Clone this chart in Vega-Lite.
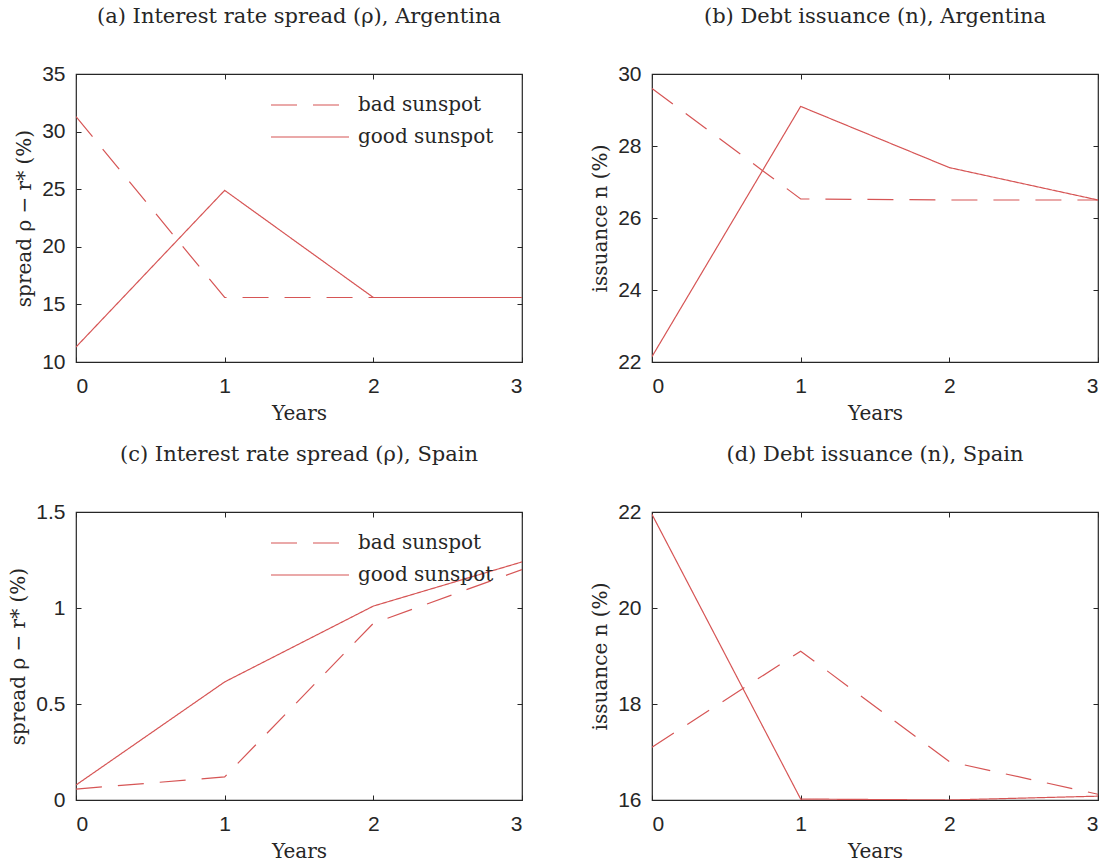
{
  "$schema": "https://vega.github.io/schema/vega-lite/v6.json",
  "background": "white",
  "padding": {"left": 8, "top": 5, "right": 5, "bottom": 5},
  "config": {
    "view": {"stroke": "#262626", "strokeWidth": 1.2},
    "axis": {
      "grid": false, "domain": false,
      "tickColor": "#262626", "tickSize": -5, "tickWidth": 1,
      "labelFont": "Liberation Sans", "labelFontSize": 21, "labelColor": "#262626",
      "titleFont": "DejaVu Serif", "titleFontSize": 20, "titleFontWeight": "normal", "titleColor": "#262626"
    },
    "axisX": {"labelPadding": 18, "titlePadding": 7},
    "axisY": {"labelPadding": 16, "titlePadding": 7},
    "title": {"font": "DejaVu Serif", "fontSize": 21, "fontWeight": "normal", "color": "#262626", "offset": 36},
    "legend": {
      "symbolType": "stroke", "symbolSize": 6084, "symbolStrokeWidth": 1.2, "clipHeight": 30,
      "labelFont": "DejaVu Serif", "labelFontSize": 20, "labelColor": "#262626", "labelOffset": 8,
      "padding": 0, "title": null
    },
    "line": {"strokeWidth": 1.2, "color": "#d65555"}
  },
  "datasets": {
    "pts": [
      {"panel": "a", "series": "bad sunspot", "year": 0, "value": 31.3},
      {"panel": "a", "series": "bad sunspot", "year": 1, "value": 15.6},
      {"panel": "a", "series": "bad sunspot", "year": 2, "value": 15.6},
      {"panel": "a", "series": "bad sunspot", "year": 3, "value": 15.6},
      {"panel": "a", "series": "good sunspot", "year": 0, "value": 11.3},
      {"panel": "a", "series": "good sunspot", "year": 1, "value": 24.9},
      {"panel": "a", "series": "good sunspot", "year": 2, "value": 15.6},
      {"panel": "a", "series": "good sunspot", "year": 3, "value": 15.6},
      {"panel": "b", "series": "bad sunspot", "year": 0, "value": 29.6},
      {"panel": "b", "series": "bad sunspot", "year": 1, "value": 26.53},
      {"panel": "b", "series": "bad sunspot", "year": 2, "value": 26.5},
      {"panel": "b", "series": "bad sunspot", "year": 3, "value": 26.5},
      {"panel": "b", "series": "good sunspot", "year": 0, "value": 22.15},
      {"panel": "b", "series": "good sunspot", "year": 1, "value": 29.1},
      {"panel": "b", "series": "good sunspot", "year": 2, "value": 27.4},
      {"panel": "b", "series": "good sunspot", "year": 3, "value": 26.5},
      {"panel": "c", "series": "bad sunspot", "year": 0, "value": 0.057},
      {"panel": "c", "series": "bad sunspot", "year": 1, "value": 0.12},
      {"panel": "c", "series": "bad sunspot", "year": 2, "value": 0.92},
      {"panel": "c", "series": "bad sunspot", "year": 3, "value": 1.2},
      {"panel": "c", "series": "good sunspot", "year": 0, "value": 0.078},
      {"panel": "c", "series": "good sunspot", "year": 1, "value": 0.615},
      {"panel": "c", "series": "good sunspot", "year": 2, "value": 1.01},
      {"panel": "c", "series": "good sunspot", "year": 3, "value": 1.24},
      {"panel": "d", "series": "bad sunspot", "year": 0, "value": 17.1},
      {"panel": "d", "series": "bad sunspot", "year": 1, "value": 19.1},
      {"panel": "d", "series": "bad sunspot", "year": 2, "value": 16.8},
      {"panel": "d", "series": "bad sunspot", "year": 3, "value": 16.12},
      {"panel": "d", "series": "good sunspot", "year": 0, "value": 21.95},
      {"panel": "d", "series": "good sunspot", "year": 1, "value": 16.02},
      {"panel": "d", "series": "good sunspot", "year": 2, "value": 16.0},
      {"panel": "d", "series": "good sunspot", "year": 3, "value": 16.08}
    ]
  },
  "columns": 2,
  "bounds": "flush",
  "spacing": {"row": 150, "column": 130},
  "resolve": {"scale": {"y": "independent", "strokeDash": "independent"}, "legend": {"strokeDash": "independent"}},
  "concat": [
    {
      "width": 446, "height": 288,
      "title": "(a) Interest rate spread (ρ), Argentina",
      "data": {"name": "pts"},
      "transform": [{"filter": "datum.panel === 'a'"}],
      "resolve": {"axis": {"x": "independent", "y": "independent"}},
      "layer": [
        {
          "mark": {"type": "line", "clip": true},
          "encoding": {
            "x": {"field": "year", "type": "quantitative", "scale": {"domain": [0, 3], "nice": false}, "axis": {"values": [0, 1, 2, 3], "title": "Years"}},
            "y": {"field": "value", "type": "quantitative", "scale": {"domain": [10, 35], "nice": false, "zero": false}, "axis": {"values": [10, 15, 20, 25, 30, 35], "title": "spread ρ − r* (%)"}},
            "strokeDash": {"field": "series", "type": "nominal", "scale": {"domain": ["bad sunspot", "good sunspot"], "range": [[26, 16], [1, 0]]},
              "legend": {"orient": "none", "legendX": 194, "legendY": 16}}
          }
        },
        {
          "mark": {"type": "line", "opacity": 0},
          "encoding": {
            "x": {"field": "year", "type": "quantitative", "axis": {"orient": "top", "values": [0, 1, 2, 3], "labels": false, "title": null}},
            "y": {"field": "value", "type": "quantitative", "axis": {"orient": "right", "values": [10, 15, 20, 25, 30, 35], "labels": false, "title": null}},
            "detail": {"field": "series"}
          }
        }
      ]
    },
    {
      "width": 446, "height": 288,
      "title": "(b) Debt issuance (n), Argentina",
      "data": {"name": "pts"},
      "transform": [{"filter": "datum.panel === 'b'"}],
      "resolve": {"axis": {"x": "independent", "y": "independent"}},
      "layer": [
        {
          "mark": {"type": "line", "clip": true},
          "encoding": {
            "x": {"field": "year", "type": "quantitative", "scale": {"domain": [0, 3], "nice": false}, "axis": {"values": [0, 1, 2, 3], "title": "Years"}},
            "y": {"field": "value", "type": "quantitative", "scale": {"domain": [22, 30], "nice": false, "zero": false}, "axis": {"values": [22, 24, 26, 28, 30], "title": "issuance n (%)"}},
            "strokeDash": {"field": "series", "type": "nominal", "scale": {"domain": ["bad sunspot", "good sunspot"], "range": [[26, 16], [1, 0]]}, "legend": null}
          }
        },
        {
          "mark": {"type": "line", "opacity": 0},
          "encoding": {
            "x": {"field": "year", "type": "quantitative", "axis": {"orient": "top", "values": [0, 1, 2, 3], "labels": false, "title": null}},
            "y": {"field": "value", "type": "quantitative", "axis": {"orient": "right", "values": [22, 24, 26, 28, 30], "labels": false, "title": null}},
            "detail": {"field": "series"}
          }
        }
      ]
    },
    {
      "width": 446, "height": 288,
      "title": "(c) Interest rate spread (ρ), Spain",
      "data": {"name": "pts"},
      "transform": [{"filter": "datum.panel === 'c'"}],
      "resolve": {"axis": {"x": "independent", "y": "independent"}},
      "layer": [
        {
          "mark": {"type": "line", "clip": true},
          "encoding": {
            "x": {"field": "year", "type": "quantitative", "scale": {"domain": [0, 3], "nice": false}, "axis": {"values": [0, 1, 2, 3], "title": "Years"}},
            "y": {"field": "value", "type": "quantitative", "scale": {"domain": [0, 1.5], "nice": false}, "axis": {"values": [0, 0.5, 1, 1.5], "format": "~g", "title": "spread ρ − r* (%)"}},
            "strokeDash": {"field": "series", "type": "nominal", "scale": {"domain": ["bad sunspot", "good sunspot"], "range": [[26, 16], [1, 0]]},
              "legend": {"orient": "none", "legendX": 194, "legendY": 16}}
          }
        },
        {
          "mark": {"type": "line", "opacity": 0},
          "encoding": {
            "x": {"field": "year", "type": "quantitative", "axis": {"orient": "top", "values": [0, 1, 2, 3], "labels": false, "title": null}},
            "y": {"field": "value", "type": "quantitative", "axis": {"orient": "right", "values": [0, 0.5, 1, 1.5], "labels": false, "title": null}},
            "detail": {"field": "series"}
          }
        }
      ]
    },
    {
      "width": 446, "height": 288,
      "title": "(d) Debt issuance (n), Spain",
      "data": {"name": "pts"},
      "transform": [{"filter": "datum.panel === 'd'"}],
      "resolve": {"axis": {"x": "independent", "y": "independent"}},
      "layer": [
        {
          "mark": {"type": "line", "clip": true},
          "encoding": {
            "x": {"field": "year", "type": "quantitative", "scale": {"domain": [0, 3], "nice": false}, "axis": {"values": [0, 1, 2, 3], "title": "Years"}},
            "y": {"field": "value", "type": "quantitative", "scale": {"domain": [16, 22], "nice": false, "zero": false}, "axis": {"values": [16, 18, 20, 22], "title": "issuance n (%)"}},
            "strokeDash": {"field": "series", "type": "nominal", "scale": {"domain": ["bad sunspot", "good sunspot"], "range": [[26, 16], [1, 0]]}, "legend": null}
          }
        },
        {
          "mark": {"type": "line", "opacity": 0},
          "encoding": {
            "x": {"field": "year", "type": "quantitative", "axis": {"orient": "top", "values": [0, 1, 2, 3], "labels": false, "title": null}},
            "y": {"field": "value", "type": "quantitative", "axis": {"orient": "right", "values": [16, 18, 20, 22], "labels": false, "title": null}},
            "detail": {"field": "series"}
          }
        }
      ]
    }
  ]
}
